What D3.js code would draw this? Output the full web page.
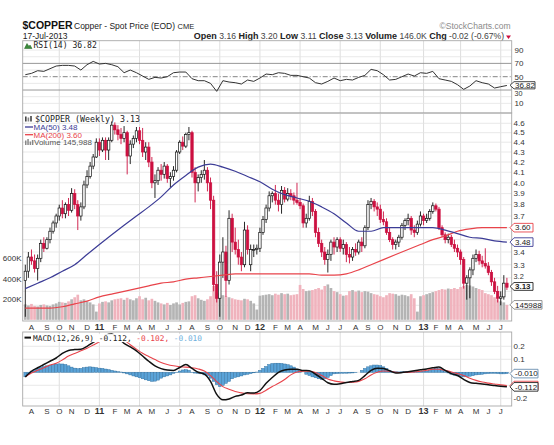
<!DOCTYPE html>
<html><head><meta charset="utf-8">
<script src="https://cdn.jsdelivr.net/npm/d3@7/dist/d3.min.js"></script>
<style>
html,body{margin:0;padding:0;background:#fff;}
svg{display:block;}
text{font-family:"Liberation Sans",Arial,sans-serif;}
.mono{font-family:"DejaVu Sans Mono",monospace;}
</style></head><body>
<svg id="chart" width="554" height="445"></svg>
<script>
// ================= DATA =================
const firstWeek = "2010-07-19", lastWeek = "2013-07-15"; // weekly bars (Monday of week)

const opens = [
3.18,3.25,3.36,3.33,3.27,3.35,3.47,3.43,3.50,3.57,
3.64,3.70,3.77,3.72,3.80,3.75,3.90,3.80,3.70,3.78,
3.98,4.06,4.16,4.25,4.40,4.32,4.42,4.32,4.42,4.58,
4.53,4.48,4.44,4.50,4.26,4.38,4.44,4.52,4.42,4.30,
4.35,4.20,4.00,4.02,4.12,4.08,4.16,4.04,4.06,4.12,
4.30,4.40,4.36,4.48,4.50,4.10,4.00,4.05,4.08,4.12,
4.00,3.84,3.15,3.05,3.32,3.40,3.18,3.68,3.48,3.42,
3.36,3.30,3.58,3.30,3.42,3.42,3.43,3.56,3.67,3.77,
3.88,3.90,3.84,3.80,3.93,3.85,3.90,3.88,3.84,3.82,
3.79,3.64,3.68,3.83,3.74,3.56,3.47,3.40,3.34,3.38,
3.48,3.44,3.50,3.43,3.46,3.38,3.36,3.42,3.40,3.48,
3.45,3.60,3.80,3.83,3.78,3.76,3.67,3.65,3.56,3.50,
3.46,3.48,3.52,3.62,3.66,3.68,3.58,3.56,3.63,3.70,
3.66,3.68,3.74,3.79,3.76,3.60,3.54,3.50,3.52,3.46,
3.43,3.40,3.34,3.16,3.20,3.26,3.35,3.38,3.33,3.31,
3.29,3.24,3.17,3.10,3.05,3.06,3.16];
const highs = [
3.30,3.40,3.42,3.38,3.38,3.50,3.52,3.52,3.60,3.66,
3.72,3.80,3.84,3.82,3.86,3.95,3.94,3.84,3.82,4.02,
4.12,4.20,4.28,4.44,4.44,4.45,4.45,4.45,4.62,4.61,
4.58,4.55,4.57,4.52,4.42,4.47,4.56,4.56,4.55,4.40,
4.40,4.25,4.08,4.15,4.18,4.20,4.18,4.10,4.16,4.32,
4.42,4.46,4.50,4.56,4.52,4.15,4.08,4.12,4.22,4.15,
4.05,3.88,3.25,3.38,3.52,3.45,3.75,3.72,3.60,3.50,
3.40,3.65,3.62,3.46,3.46,3.46,3.60,3.70,3.80,3.92,
3.92,3.98,3.90,3.97,3.96,3.95,3.94,3.91,4.00,3.86,
3.81,3.72,3.88,3.86,3.76,3.60,3.50,3.44,3.42,3.50,
3.52,3.52,3.52,3.50,3.48,3.44,3.44,3.47,3.50,3.52,
3.62,3.84,3.86,3.85,3.82,3.80,3.74,3.68,3.60,3.52,
3.50,3.54,3.64,3.68,3.72,3.70,3.62,3.66,3.74,3.72,
3.72,3.76,3.82,3.81,3.78,3.62,3.56,3.55,3.54,3.50,
3.46,3.42,3.36,3.22,3.28,3.38,3.42,3.41,3.37,3.43,
3.32,3.26,3.20,3.14,3.10,3.22,3.20];
const lows = [
2.92,3.20,3.30,3.24,3.18,3.32,3.40,3.42,3.47,3.55,
3.60,3.66,3.68,3.68,3.70,3.73,3.76,3.58,3.66,3.76,
3.95,4.04,4.13,4.24,4.26,4.30,4.22,4.22,4.40,4.48,
4.42,4.38,4.40,4.08,4.18,4.34,4.40,4.38,4.25,4.22,
4.15,3.95,3.86,3.98,4.02,4.04,4.00,3.96,4.02,4.10,
4.28,4.32,4.34,4.42,4.05,3.82,3.92,4.00,4.03,3.92,
3.76,3.10,3.02,2.92,3.20,3.06,3.15,3.40,3.38,3.30,
3.25,3.28,3.38,3.25,3.36,3.38,3.40,3.54,3.64,3.74,
3.82,3.80,3.74,3.72,3.82,3.83,3.84,3.80,3.80,3.76,
3.60,3.60,3.66,3.70,3.52,3.44,3.36,3.30,3.24,3.33,
3.38,3.40,3.40,3.38,3.32,3.31,3.33,3.37,3.38,3.40,
3.43,3.58,3.76,3.74,3.70,3.64,3.62,3.54,3.48,3.42,
3.42,3.44,3.50,3.58,3.62,3.54,3.52,3.54,3.61,3.62,
3.64,3.66,3.72,3.74,3.58,3.52,3.47,3.47,3.44,3.40,
3.36,3.30,3.12,3.04,3.05,3.22,3.32,3.30,3.28,3.27,
3.22,3.14,3.08,3.02,3.00,3.04,3.11];
const closes = [
3.25,3.36,3.33,3.27,3.35,3.47,3.43,3.50,3.57,3.64,
3.70,3.77,3.72,3.80,3.75,3.90,3.80,3.70,3.78,3.98,
4.06,4.16,4.25,4.40,4.32,4.42,4.32,4.42,4.58,4.53,
4.48,4.44,4.50,4.26,4.38,4.44,4.52,4.42,4.30,4.35,
4.20,4.00,4.02,4.12,4.08,4.16,4.04,4.06,4.12,4.30,
4.40,4.36,4.48,4.50,4.10,4.00,4.05,4.08,4.12,4.00,
3.84,3.15,3.05,3.32,3.40,3.18,3.68,3.48,3.42,3.36,
3.30,3.58,3.42,3.42,3.42,3.43,3.56,3.67,3.77,3.88,
3.90,3.84,3.80,3.93,3.85,3.90,3.88,3.84,3.82,3.79,
3.64,3.68,3.83,3.74,3.56,3.47,3.40,3.34,3.38,3.48,
3.44,3.50,3.43,3.46,3.38,3.36,3.42,3.40,3.48,3.45,
3.60,3.80,3.83,3.78,3.76,3.67,3.65,3.56,3.50,3.46,
3.48,3.52,3.62,3.66,3.68,3.58,3.56,3.63,3.70,3.66,
3.68,3.74,3.79,3.76,3.60,3.54,3.50,3.52,3.46,3.43,
3.40,3.34,3.16,3.20,3.26,3.35,3.38,3.33,3.31,3.29,
3.24,3.17,3.10,3.05,3.06,3.16,3.13];
// weekly volume, thousands
const volumesK = [
150,140,155,135,130,145,150,140,135,150,
160,175,170,165,180,200,220,245,190,200,
180,170,150,80,160,175,180,170,190,200,
205,210,195,215,200,190,210,230,200,215,
190,205,185,170,160,150,165,145,160,170,
150,165,175,180,230,240,210,195,185,200,
230,330,270,260,240,230,220,210,200,195,
190,205,200,185,160,100,235,240,245,250,
240,255,245,260,250,255,240,245,250,340,
300,280,285,290,300,310,295,330,345,310,
280,270,250,235,240,280,290,275,285,270,
280,275,260,250,245,230,220,240,260,255,
250,235,245,240,230,250,210,80,230,240,
250,260,270,280,290,300,295,305,300,310,
300,320,330,340,335,325,310,300,290,260,
250,240,220,200,180,170,145.988];
// moving averages, read every 4th week (weeks 0,4,...,156)
const ma50Every4 = [
3.12,3.16,3.20,3.25,3.30,3.38,3.46,3.54,3.62,3.70,
3.78,3.87,3.98,4.07,4.15,4.18,4.15,4.11,4.06,4.01,
3.94,3.89,3.86,3.83,3.78,3.72,3.64,3.57,3.57,3.60,
3.60,3.60,3.60,3.60,3.58,3.55,3.52,3.51,3.49,3.48];
const ma200Every4 = [
2.98,2.98,2.98,2.99,3.01,3.03,3.06,3.08,3.10,3.12,
3.14,3.16,3.17,3.19,3.20,3.21,3.22,3.23,3.23,3.23,
3.23,3.23,3.23,3.23,3.22,3.22,3.23,3.26,3.30,3.34,
3.38,3.42,3.46,3.50,3.53,3.57,3.59,3.60,3.60,3.60];
// indicators read every 2nd week (weeks 0,2,...,156)
const rsiEvery2 = [
53,55,59,58,62,66,67,67,66,60,
68,73,69,70,68,65,56,60,56,51,
46,49,48,50,56,57,57,47,44,44,
40,28,44,42,41,39,45,43,48,54,
53,56,55,52,52,50,48,41,39,43,
48,44,46,45,49,52,61,59,53,45,
46,50,54,51,56,55,58,47,45,43,
38,31,36,44,41,39,33,35,36.82];
const macdEvery2 = [
-0.035,0.008,0.035,0.06,0.085,0.11,0.145,0.168,0.175,0.178,
0.2,0.23,0.26,0.285,0.295,0.265,0.222,0.195,0.165,0.125,
0.085,0.05,0.028,0.017,0.014,0.037,0.06,0.03,0.0,-0.014,
-0.07,-0.17,-0.212,-0.205,-0.185,-0.175,-0.158,-0.16,-0.14,-0.085,
-0.04,0.0,0.018,0.023,0.023,0.014,0.012,-0.015,-0.046,-0.08,
-0.092,-0.088,-0.078,-0.07,-0.062,-0.025,0.015,0.032,0.03,0.012,
-0.006,-0.002,0.005,0.012,0.019,0.026,0.035,0.04,0.015,-0.01,
-0.025,-0.055,-0.078,-0.085,-0.09,-0.095,-0.102,-0.108,-0.112];
const signalEvery2 = [
-0.035,-0.005,0.015,0.035,0.056,0.07,0.095,0.125,0.145,0.165,
0.185,0.21,0.235,0.258,0.275,0.272,0.248,0.212,0.178,0.146,
0.122,0.098,0.075,0.06,0.05,0.043,0.04,0.035,0.026,0.01,
-0.025,-0.072,-0.11,-0.13,-0.148,-0.158,-0.165,-0.166,-0.162,-0.138,
-0.11,-0.085,-0.055,-0.02,0.002,0.008,0.008,-0.002,-0.025,-0.052,
-0.066,-0.074,-0.079,-0.077,-0.07,-0.05,-0.02,0.0,0.01,0.008,
0.0,-0.002,0.0,0.002,0.008,0.016,0.023,0.024,0.015,0.003,
-0.01,-0.025,-0.045,-0.062,-0.075,-0.083,-0.09,-0.097,-0.102];
const histWeekly = [
-0.035,-0.015,0.01,0.02,0.03,0.04,0.045,0.05,0.055,0.06,
0.064,0.065,0.064,0.06,0.05,0.04,0.032,0.028,0.03,0.036,
0.04,0.042,0.04,0.036,0.032,0.03,0.025,0.02,0.015,0.01,
0.005,0.002,-0.005,-0.012,-0.02,-0.028,-0.035,-0.042,-0.05,-0.058,
-0.065,-0.07,-0.068,-0.06,-0.045,-0.035,-0.028,-0.02,-0.008,-0.002,
0.01,0.018,0.02,0.015,-0.002,-0.006,-0.008,-0.012,-0.02,-0.025,
-0.045,-0.07,-0.095,-0.11,-0.1,-0.085,-0.07,-0.05,-0.04,-0.035,
-0.028,-0.02,-0.015,-0.01,-0.004,0.002,0.015,0.03,0.045,0.06,
0.068,0.07,0.07,0.068,0.064,0.058,0.05,0.04,0.025,0.01,
0.0,-0.015,-0.025,-0.035,-0.042,-0.05,-0.056,-0.05,-0.04,-0.025,
-0.012,-0.01,-0.008,-0.008,-0.007,-0.006,-0.005,-0.003,0.0,0.015,
0.03,0.042,0.05,0.056,0.056,0.052,0.042,0.03,0.015,0.008,
0.004,0.003,0.004,0.005,0.006,0.005,0.004,0.005,0.006,0.008,
0.01,0.015,0.025,0.03,0.028,0.015,0.005,-0.005,-0.015,-0.022,
-0.028,-0.032,-0.035,-0.033,-0.03,-0.026,-0.02,-0.018,-0.015,-0.012,
-0.01,-0.008,-0.008,-0.01,-0.012,-0.012,-0.01];

const monthTickDates = [
"2010-08-02","2010-09-06","2010-10-04","2010-11-01","2010-12-06",
"2011-01-03","2011-02-07","2011-03-07","2011-04-04","2011-05-02","2011-06-06",
"2011-07-04","2011-08-01","2011-09-05","2011-10-03","2011-11-07","2011-12-05",
"2012-01-02","2012-02-06","2012-03-05","2012-04-02","2012-05-07","2012-06-04",
"2012-07-02","2012-08-06","2012-09-03","2012-10-01","2012-11-05","2012-12-03",
"2013-01-07","2013-02-04","2013-03-04","2013-04-01","2013-05-06","2013-06-03","2013-07-01"];
const monthTickLabels = ["A","S","O","N","D","11","F","M","A","M","J","J","A","S","O","N","D",
"12","F","M","A","M","J","J","A","S","O","N","D","13","F","M","A","M","J","J"];
const priceTicks = [3.1,3.2,3.3,3.4,3.5,3.6,3.7,3.8,3.9,4.0,4.1,4.2,4.3,4.4,4.5,4.6];
const priceGrid = [3.0,3.1,3.2,3.3,3.4,3.5,3.6,3.7,3.8,3.9,4.0,4.1,4.2,4.3,4.4,4.5,4.6];
const volumeTicksK = [200,400,600];
const rsiTicks = [10,30,50,70,90];
const rsiGrid = [10,20,30,40,50,60,70,80,90];
const macdTicks = [-0.2,-0.1,0,0.1,0.2];

const headerSymbol = "$COPPER", headerName = "Copper - Spot Price (EOD)", headerExch = "CME";
const headerDate = "17-Jul-2013";
const headerQuote = [["Open","3.16"],["High","3.20"],["Low","3.11"],["Close","3.13"],["Volume","146.0K"],["Chg","-0.02 (-0.67%)"]];

// ================= LAYOUT =================
const L = 22.7, R = 511.7;
const rsiTop = 40.7, rsiBot = 113, mainTop = 113, mainBot = 321, macdTop = 332, macdBot = 406;
const RED = "#cc1040", NAVY = "#3c3c96", MARED = "#e8434a", BLUEH = "#5aa3d8";

const svg = d3.select("#chart");
const parse = d3.timeParse("%Y-%m-%d");
const weeks = d3.timeMonday.range(parse(firstWeek), d3.timeDay.offset(parse(lastWeek), 1));
const x = d3.scaleTime().domain([weeks[0], weeks[weeks.length - 1]]).range([25.3, 506.9]);
const yP = d3.scaleLog().domain([3.1, 4.6]).range([291.34, 123.3]);
const yV = d3.scaleLinear().domain([0, 600]).range([319.8, 258.3]);
const yR = d3.scaleLinear().domain([0, 100]).range([110, 43.4]);
const yM = d3.scaleLinear().domain([-0.2, 0.2]).range([398.3, 346.3]);
const minus = s => s.replace(/\u2212/g, "-");

const defs = svg.append("defs");
function clip(id, y0, y1) {
  defs.append("clipPath").attr("id", id).append("rect")
    .attr("x", L).attr("y", y0).attr("width", R - L).attr("height", y1 - y0);
}
clip("cR", rsiTop, rsiBot); clip("cM", mainTop, mainBot); clip("cD", macdTop, macdBot);

const tickX = monthTickDates.map(d => x(parse(d)));
const quarterX = monthTickDates.filter(d => parse(d).getMonth() % 3 === 0).map(d => x(parse(d)));

function vgrid(y0, y1) {
  svg.append("g").selectAll("line").data(quarterX).join("line")
    .attr("x1", d => d).attr("x2", d => d).attr("y1", y0).attr("y2", y1)
    .attr("stroke", "#d6d6d6").attr("stroke-width", 0.8);
}
function hgrid(vals, scale) {
  svg.append("g").selectAll("line").data(vals).join("line")
    .attr("x1", L).attr("x2", R).attr("y1", d => scale(d)).attr("y2", d => scale(d))
    .attr("stroke", "#e3e3e3").attr("stroke-width", 0.8);
}
function valueBox(y, label, stroke, w, bold, h) {
  const x0 = 510; h = h || 8.6;
  const g = svg.append("g");
  g.append("path").attr("d", `M${x0},${y}L${x0+4},${y-h/2}L${x0+4+w},${y-h/2}L${x0+4+w},${y+h/2}L${x0+4},${y+h/2}Z`)
    .attr("fill", "#fff").attr("stroke", stroke).attr("stroke-width", 0.9);
  g.append("text").attr("x", x0 + 5).attr("y", y).attr("dy", "0.35em")
    .attr("font-size", 8).attr("font-weight", bold ? "bold" : "normal").attr("fill", "#222").text(label);
}

// ================= HEADER =================
svg.append("text").attr("x", 22.5).attr("y", 29).attr("font-size", 10.5).attr("font-weight", "bold").attr("fill", "#111").text(headerSymbol);
svg.append("text").attr("x", 74).attr("y", 29).attr("font-size", 8.5).attr("fill", "#222").text(headerName);
svg.append("text").attr("x", 177.5).attr("y", 29).attr("font-size", 7.5).attr("fill", "#222").text(headerExch);
svg.append("text").attr("x", 22.7).attr("y", 38.8).attr("font-size", 8.5).attr("fill", "#222").text(headerDate);
svg.append("text").attr("x", 510.5).attr("y", 28.5).attr("text-anchor", "end").attr("font-size", 8.5).attr("fill", "#8a8a8a").text("\u00A9StockCharts.com");
const hq = svg.append("text").attr("x", 504).attr("y", 38.8).attr("text-anchor", "end").attr("font-size", 8.6).attr("fill", "#222");
headerQuote.forEach(([k, v], i) => {
  hq.append("tspan").attr("font-weight", "bold").attr("font-size", 9).text((i ? " " : "") + k);
  hq.append("tspan").attr("fill", "#444").text(" " + v);
});
svg.append("path").attr("d", "M506,35.5L511,35.5L508.5,39Z").attr("fill", RED);

// ================= RSI PANEL =================
vgrid(rsiTop, rsiBot);
svg.append("g").selectAll("line").data(rsiGrid).join("line")
  .attr("x1", L).attr("x2", R).attr("y1", d => yR(d)).attr("y2", d => yR(d))
  .attr("stroke", d => (d === 70 || d === 30) ? "#8c8c8c" : (d === 50 ? "#777" : "#e3e3e3"))
  .attr("stroke-width", d => (d === 70 || d === 30 || d === 50) ? 0.9 : 0.8)
  .attr("stroke-dasharray", d => d === 50 ? "5,2,1,2" : null);
const rsiLine = d3.line().x((d, k) => x(weeks[k * 2])).y(d => yR(d));
svg.append("path").attr("clip-path", "url(#cR)").attr("d", rsiLine(rsiEvery2))
  .attr("fill", "none").attr("stroke", "#333").attr("stroke-width", 1);
svg.append("rect").attr("x", L).attr("y", rsiTop).attr("width", R - L).attr("height", rsiBot - rsiTop)
  .attr("fill", "none").attr("stroke", "#a9a9a9").attr("stroke-width", 0.9);
const lastRsi = rsiEvery2[rsiEvery2.length - 1];
svg.append("g").selectAll("text").data(rsiTicks).join("text")
  .attr("x", 514.5).attr("y", d => d === 30 ? yR(d) + 3.4 : yR(d)).attr("dy", "0.35em")
  .attr("font-size", d => d === 30 ? 7.2 : 8).attr("fill", "#333").text(d => d);
// RSI legend
svg.append("path").attr("d", "M24.5,48.5L27,43.5L29,46.5L30,45L32,48.5Z").attr("fill", "#3a8a3a").attr("stroke", "#1d5f1d").attr("stroke-width", 0.5);
svg.append("text").attr("class", "mono").attr("x", 33.5).attr("y", 48.3).attr("font-size", 8.1).attr("fill", "#222")
  .text("RSI(14) " + d3.format(".2f")(lastRsi));
valueBox(yR(lastRsi) - 0.2, d3.format(".2f")(lastRsi), "#333", 21, false, 7.2);

// ================= MAIN PANEL =================
vgrid(mainTop, mainBot);
hgrid(priceGrid, yP);
const gMain = svg.append("g").attr("clip-path", "url(#cM)");
const down = closes.map((c, i) => c < (i ? closes[i - 1] : opens[i]));
// volume
gMain.append("g").selectAll("rect").data(volumesK).join("rect")
  .attr("x", (d, i) => x(weeks[i]) - 1.35).attr("width", 2.7)
  .attr("y", d => yV(d)).attr("height", d => yV(0) - yV(d))
  .attr("fill", (d, i) => down[i] ? "#f0b3bd" : "#b4b4b4");
// candles
const cg = gMain.append("g");
closes.forEach((c, i) => {
  const xi = x(weeks[i]), col = down[i] ? RED : "#111";
  cg.append("line").attr("x1", xi).attr("x2", xi).attr("y1", yP(highs[i])).attr("y2", yP(lows[i]))
    .attr("stroke", col).attr("stroke-width", 0.9);
  const top = yP(Math.max(opens[i], c)), bot = yP(Math.min(opens[i], c));
  const filled = c < opens[i];
  cg.append("rect").attr("x", xi - 1.2).attr("width", 2.4)
    .attr("y", top).attr("height", Math.max(bot - top, 0.8))
    .attr("fill", filled ? col : "#fff").attr("stroke", col).attr("stroke-width", 0.7);
});
// moving averages
const maLine = d3.line().x((d, k) => x(weeks[k * 4])).y(d => yP(d)).curve(d3.curveMonotoneX);
gMain.append("path").attr("d", maLine(ma200Every4)).attr("fill", "none").attr("stroke", MARED).attr("stroke-width", 1.2);
gMain.append("path").attr("d", maLine(ma50Every4)).attr("fill", "none").attr("stroke", NAVY).attr("stroke-width", 1.2);
svg.append("rect").attr("x", L).attr("y", mainTop).attr("width", R - L).attr("height", mainBot - mainTop)
  .attr("fill", "none").attr("stroke", "#a9a9a9").attr("stroke-width", 0.9);

// axis labels
const lastClose = closes[closes.length - 1], lastMa50 = ma50Every4[ma50Every4.length - 1], lastMa200 = ma200Every4[ma200Every4.length - 1];
const lastVol = volumesK[volumesK.length - 1];
const closeBoxY = yP(lastClose) - 0.8;
const boxYs = [closeBoxY, yP(lastMa50), yP(lastMa200), yV(lastVol)];
svg.append("g").selectAll("text").data(priceTicks.filter(t => boxYs.every(b => Math.abs(yP(t) - b) > 6.5))).join("text")
  .attr("x", 513.5).attr("y", d => d === 3.2 ? yP(d) - 1 : yP(d)).attr("dy", "0.35em")
  .attr("font-size", d => (d === 3.2 || d === 3.1) ? 7.4 : 8).attr("fill", "#333").text(d => d.toFixed(1));
svg.append("g").selectAll("text").data(volumeTicksK).join("text")
  .attr("x", 21.5).attr("y", d => yV(d)).attr("dy", "0.35em").attr("text-anchor", "end").attr("font-size", 8).attr("fill", "#333").text(d => d + "K");
valueBox(yP(lastMa200), lastMa200.toFixed(2), MARED, 19, false);
valueBox(yP(lastMa50), lastMa50.toFixed(2), NAVY, 19, false);
valueBox(yV(lastVol), String(Math.round(lastVol * 1000)), "#8a8a8a", 28, false);
valueBox(closeBoxY, lastClose.toFixed(2), "#222", 19, true, 7.8);

// legend
const lg = svg.append("g");
lg.append("rect").attr("x", 25).attr("y", 116.5).attr("width", 1.6).attr("height", 5).attr("fill", "#444");
lg.append("rect").attr("x", 27.6).attr("y", 117.5).attr("width", 1.6).attr("height", 4).attr("fill", "#888");
lg.append("rect").attr("x", 30.2).attr("y", 116).attr("width", 1.6).attr("height", 5.5).attr("fill", "#444");
lg.append("text").attr("class", "mono").attr("x", 35).attr("y", 122.2).attr("font-size", 8.3).attr("fill", "#222")
  .text(headerSymbol + " (Weekly) " + lastClose.toFixed(2));
lg.append("line").attr("x1", 25).attr("x2", 33).attr("y1", 127).attr("y2", 127).attr("stroke", NAVY).attr("stroke-width", 1.3);
lg.append("text").attr("x", 33.5).attr("y", 129.8).attr("font-size", 8).attr("fill", NAVY).text("MA(50) " + lastMa50.toFixed(2));
lg.append("line").attr("x1", 25).attr("x2", 33).attr("y1", 134.7).attr("y2", 134.7).attr("stroke", MARED).attr("stroke-width", 1.3);
lg.append("text").attr("x", 33.5).attr("y", 137.5).attr("font-size", 8).attr("fill", MARED).text("MA(200) " + lastMa200.toFixed(2));
[[25, 140.5, 4.5], [27.3, 139, 6], [29.6, 141.5, 3.5], [31.9, 140, 5]].forEach(([bx, by, bh]) =>
  lg.append("rect").attr("x", bx).attr("y", by).attr("width", 1.5).attr("height", bh).attr("fill", "#888"));
lg.append("text").attr("x", 34).attr("y", 145.3).attr("font-size", 8).attr("fill", "#555")
  .text("Volume " + d3.format(",")(Math.round(lastVol * 1000)));

// month labels (two rows)
function monthRow(yBase) {
  svg.append("g").selectAll("text").data(monthTickLabels).join("text")
    .attr("x", (d, i) => tickX[i]).attr("y", yBase).attr("text-anchor", "middle")
    .attr("font-size", d => d.length > 1 ? 9 : 8).attr("font-weight", d => d.length > 1 ? "bold" : "normal")
    .attr("fill", "#333").text(d => d);
}
monthRow(330);
monthRow(414.3);

// ================= MACD PANEL =================
vgrid(macdTop, macdBot);
hgrid(macdTicks, yM);
const gD = svg.append("g").attr("clip-path", "url(#cD)");
gD.append("g").selectAll("rect").data(histWeekly).join("rect")
  .attr("x", (d, i) => x(weeks[i]) - 1.45).attr("width", 2.9)
  .attr("y", d => Math.min(yM(d), yM(0))).attr("height", d => Math.abs(yM(d) - yM(0)))
  .attr("fill", BLUEH).attr("stroke", "#2f6f9f").attr("stroke-width", 0.45);
const mLine = d3.line().x((d, k) => x(weeks[k * 2])).y(d => yM(d)).curve(d3.curveMonotoneX);
gD.append("path").attr("d", mLine(signalEvery2)).attr("fill", "none").attr("stroke", MARED).attr("stroke-width", 1.1);
gD.append("path").attr("d", mLine(macdEvery2)).attr("fill", "none").attr("stroke", "#111").attr("stroke-width", 1.5);
svg.append("rect").attr("x", L).attr("y", macdTop).attr("width", R - L).attr("height", macdBot - macdTop)
  .attr("fill", "none").attr("stroke", "#a9a9a9").attr("stroke-width", 0.9);

const lastMacd = macdEvery2[macdEvery2.length - 1], lastSig = signalEvery2[signalEvery2.length - 1], lastHist = histWeekly[histWeekly.length - 1];
const f3 = v => minus(d3.format(".3f")(v));
const mBoxYs = [yM(lastMacd), yM(lastHist)];
svg.append("g").selectAll("text").data(macdTicks.filter(t => mBoxYs.every(b => Math.abs(yM(t) - b) > 6.5))).join("text")
  .attr("x", 513.5).attr("y", d => yM(d)).attr("dy", "0.35em").attr("font-size", 8).attr("fill", "#333").text(d => d.toFixed(1));
// MACD legend with white backing
const mt = svg.append("text").attr("class", "mono").attr("x", 33).attr("y", 340.6).attr("font-size", 7.8);
mt.append("tspan").attr("fill", "#222").text("MACD(12,26,9) " + f3(lastMacd) + ",");
mt.append("tspan").attr("fill", MARED).text(" " + f3(lastSig) + ",");
mt.append("tspan").attr("fill", "#6fb0dc").text(" " + f3(lastHist));
const bb = mt.node().getBBox();
svg.insert("rect", () => mt.node()).attr("x", 23.5).attr("y", bb.y + 0.5).attr("width", bb.x + bb.width - 23.5 + 1).attr("height", bb.height - 1).attr("fill", "#fff");
svg.append("line").attr("x1", 24.5).attr("x2", 31).attr("y1", 337.6).attr("y2", 337.6).attr("stroke", "#111").attr("stroke-width", 2);
valueBox(yM(lastHist), f3(lastHist), "#6a8fb0", 24, false);
valueBox(yM(lastSig), f3(lastSig), MARED, 24, false);
valueBox(yM(lastMacd), f3(lastMacd), "#222", 24, false);
</script>
</body></html>
